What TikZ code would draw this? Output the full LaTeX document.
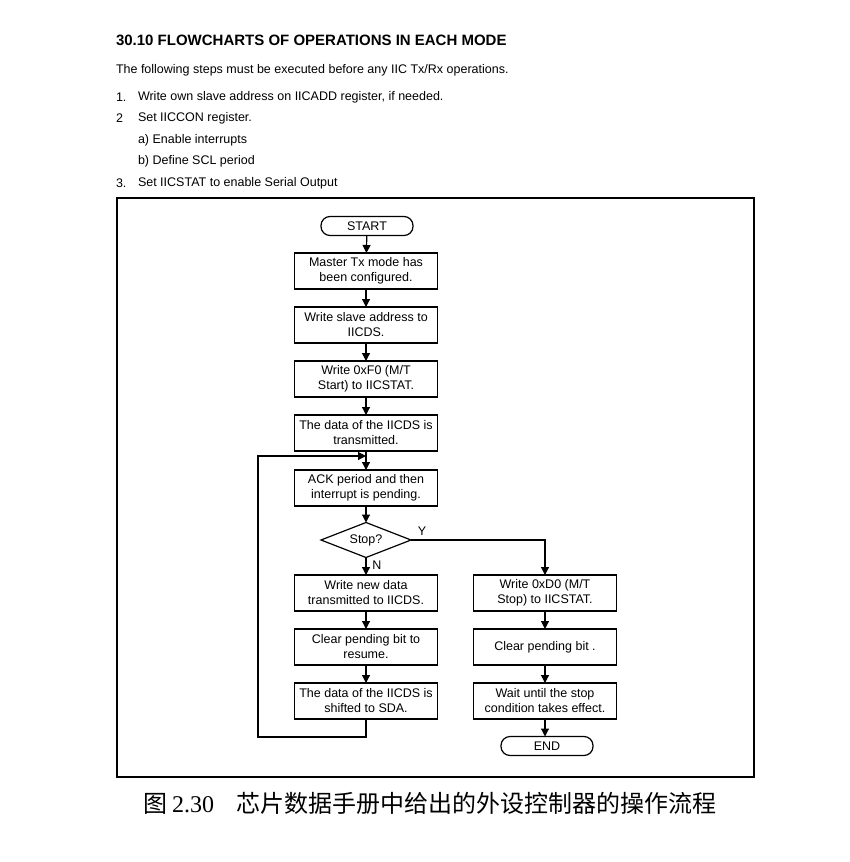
\documentclass[tikz,border=0pt]{standalone}
\usepackage{fontspec}
\setmainfont{Liberation Sans}
\newfontfamily\cjk{Noto Sans CJK SC}
\newfontfamily\serifnum{Liberation Serif}
\usetikzlibrary{shapes.geometric,arrows.meta}
\begin{document}
\begin{tikzpicture}[x=1pt,y=-1pt,
  every node/.style={inner sep=0pt,outer sep=0pt},
  txt/.style={anchor=west,font=\fontsize{12.5}{14}\selectfont},
  box/.style={draw,line width=1.2pt,minimum width=143pt,minimum height=36pt,align=center,font=\fontsize{12.5}{15}\selectfont},
  term/.style={draw,line width=1.2pt,rounded corners=9pt,minimum width=92pt,minimum height=19pt,font=\fontsize{12.5}{14}\selectfont},
  dec/.style={draw,line width=1.2pt,diamond,aspect=2.6,minimum width=90pt,minimum height=35pt,font=\fontsize{12.5}{14}\selectfont},
  lab/.style={font=\fontsize{12.5}{14}\selectfont},
  conn/.style={line width=1.2pt,-{Triangle[length=8pt,width=8pt]}}]
\useasboundingbox (0,0) rectangle (850,862);
% header text
\node[anchor=west,font=\bfseries\fontsize{15}{17}\selectfont] (title) at (116,40) {30.10 FLOWCHARTS OF OPERATIONS IN EACH MODE};
\node[txt] (intro) at (116,70) {The following steps must be executed before any IIC Tx/Rx operations.};
\node[txt] (n1) at (116,97) {1.};
\node[txt] (s1) at (138,97) {Write own slave address on IICADD register, if needed.};
\node[txt] (n2) at (116,118) {2};
\node[txt] (s2) at (138,118) {Set IICCON register.};
\node[txt] (s2a) at (138,140) {a) Enable interrupts};
\node[txt] (s2b) at (138,161) {b) Define SCL period};
\node[txt] (n3) at (116,183) {3.};
\node[txt] (s3) at (138,183) {Set IICSTAT to enable Serial Output};
% frame
\draw[line width=1.3pt] (117,198) rectangle (754,777);
% nodes
\node[term] (start) at (367,226) {START};
\node[box] (b1) at (366,271) {Master Tx mode has\\been configured.};
\node[box] (b2) at (366,325) {Write slave address to\\IICDS.};
\node[box] (b3) at (366,379) {Write 0xF0 (M/T\\Start) to IICSTAT.};
\node[box] (b4) at (366,433) {The data of the IICDS is\\transmitted.};
\node[box] (b5) at (366,488) {ACK period and then\\interrupt is pending.};
\node[dec] (stop) at (366,540) {Stop?};
\node[box] (l1) at (366,593) {Write new data\\transmitted to IICDS.};
\node[box] (l2) at (366,647) {Clear pending bit to\\resume.};
\node[box] (l3) at (366,701) {The data of the IICDS is\\shifted to SDA.};
\node[box] (r1) at (545,593) {Write 0xD0 (M/T\\Stop) to IICSTAT.};
\node[box] (r2) at (545,647) {Clear pending bit .};
\node[box] (r3) at (545,701) {Wait until the stop\\condition takes effect.};
\node[term] (end) at (547,746) {END};
\node[lab] (ylab) at (422,531) {Y};
\node[lab] (nlab) at (377,565) {N};
\coordinate (loopA) at (366,737);
\coordinate (loopB) at (258,737);
\coordinate (loopC) at (258,456);
\coordinate (join) at (366,456);
\coordinate (ycorner) at (545,540);
% connectors
\draw[conn] (start) -- (b1);
\draw[conn] (b1) -- (b2);
\draw[conn] (b2) -- (b3);
\draw[conn] (b3) -- (b4);
\draw[conn] (b4) -- (b5);
\draw[conn] (b5) -- (stop);
\draw[conn] (stop) -- (l1);
\draw[conn] (l1) -- (l2);
\draw[conn] (l2) -- (l3);
\draw[conn] (l3.south) -- (loopA) -- (loopB) -- (loopC) -- (join);
\draw[conn] (stop.east) -- (ycorner) -- (r1.north);
\draw[conn] (r1) -- (r2);
\draw[conn] (r2) -- (r3);
\draw[conn] (r3.south) -- (r3.south |- end.north);
% caption
\node[anchor=west,font=\fontsize{24}{28}\selectfont] (cap) at (143,803) {\cjk 图\hspace{5pt}\serifnum 2.30\hspace{22pt}\cjk 芯片数据手册中给出的外设控制器的操作流程};
\end{tikzpicture}
\end{document}
